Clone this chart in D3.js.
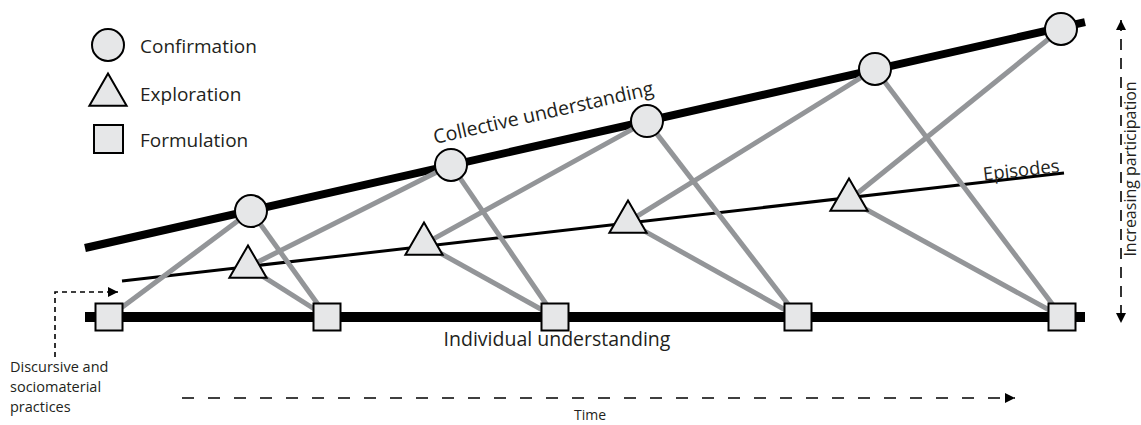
<!DOCTYPE html>
<html>
<head>
<meta charset="utf-8">
<script src="https://cdn.jsdelivr.net/npm/d3@7"></script>
<style>
  body { margin: 0; background: #fff; }
  svg { display: block; font-family: 'Open Sans', sans-serif; }
</style>
</head>
<body>
<svg id="chart" width="1141" height="425"></svg>
<script>
// time runs 0..100 left to right, participation 0..100 bottom to top
const formulationT = [2.4, 24.2, 47.0, 71.3, 97.7];
const confirmationT = [16.6, 36.6, 56.2, 79.0, 97.6];
const confirmationP = [35.3, 50.7, 65.3, 82.7, 96.0];
const explorationT = [16.3, 33.9, 54.3, 76.4];
const explorationP = [16.7, 24.3, 31.7, 39.0];

const individualLine = [[0, 0], [100, 0]];
const collectiveLine = [[0, 23], [100, 98.3]];
const episodesLine = [[3.7, 12], [97.9, 48]];

// [from kind, from index, to kind, to index]
const links = [
  ['F', 0, 'C', 0],
  ['C', 0, 'F', 1], ['E', 0, 'F', 1], ['E', 0, 'C', 1],
  ['C', 1, 'F', 2], ['E', 1, 'F', 2], ['E', 1, 'C', 2],
  ['C', 2, 'F', 3], ['E', 2, 'F', 3], ['E', 2, 'C', 3],
  ['C', 3, 'F', 4], ['E', 3, 'F', 4], ['E', 3, 'C', 4]
];

const legendItems = ['Confirmation', 'Exploration', 'Formulation'];
const practiceLines = ['Discursive and', 'sociomaterial', 'practices'];

const x = d3.scaleLinear().domain([0, 100]).range([85, 1085]);
const y = d3.scaleLinear().domain([0, 100]).range([317, 17]);

const svg = d3.select('#chart');
const fillGrey = '#e6e7e8';
const linkGrey = '#939598';
const textCol = '#231f20';

const defs = svg.append('defs');
defs.append('marker')
  .attr('id', 'arrow')
  .attr('viewBox', '0 0 10 10')
  .attr('refX', 10).attr('refY', 5)
  .attr('markerWidth', 16).attr('markerHeight', 10)
  .attr('markerUnits', 'userSpaceOnUse')
  .attr('orient', 'auto-start-reverse')
  .append('path')
  .attr('d', 'M0,0L10,5L0,10Z')
  .attr('fill', '#000');

const line = d3.line().x(d => x(d[0])).y(d => y(d[1]));

function point(kind, i) {
  if (kind === 'F') return [formulationT[i], 0];
  if (kind === 'C') return [confirmationT[i], confirmationP[i]];
  return [explorationT[i], explorationP[i]];
}

// black lines
svg.append('path').datum(individualLine).attr('d', line)
  .attr('stroke', '#000').attr('stroke-width', 10).attr('fill', 'none');
svg.append('path').datum(collectiveLine).attr('d', line)
  .attr('stroke', '#000').attr('stroke-width', 8).attr('fill', 'none');
svg.append('path').datum(episodesLine).attr('d', line)
  .attr('stroke', '#000').attr('stroke-width', 3).attr('fill', 'none');

// grey links
svg.append('g')
  .selectAll('path')
  .data(links)
  .join('path')
  .attr('d', d => line([point(d[0], d[1]), point(d[2], d[3])]))
  .attr('stroke', linkGrey)
  .attr('stroke-width', 5)
  .attr('fill', 'none');

// markers
const tri = d3.symbol(d3.symbolTriangle, 600);

svg.append('g')
  .selectAll('rect')
  .data(formulationT)
  .join('rect')
  .attr('x', d => x(d) - 13.5)
  .attr('y', y(0) - 13.5)
  .attr('width', 27).attr('height', 27)
  .attr('fill', fillGrey).attr('stroke', '#000').attr('stroke-width', 2);

svg.append('g')
  .selectAll('circle')
  .data(confirmationT)
  .join('circle')
  .attr('cx', d => x(d))
  .attr('cy', (d, i) => y(confirmationP[i]))
  .attr('r', 16)
  .attr('fill', fillGrey).attr('stroke', '#000').attr('stroke-width', 2);

svg.append('g')
  .selectAll('path')
  .data(explorationT)
  .join('path')
  .attr('d', tri)
  .attr('transform', (d, i) => `translate(${x(d)},${y(explorationP[i])})`)
  .attr('fill', fillGrey).attr('stroke', '#000').attr('stroke-width', 2);

// legend
const legend = svg.append('g');
legend.append('circle').attr('cx', 108).attr('cy', 45).attr('r', 16)
  .attr('fill', fillGrey).attr('stroke', '#000').attr('stroke-width', 2);
legend.append('path').attr('d', tri).attr('transform', 'translate(108,95)')
  .attr('fill', fillGrey).attr('stroke', '#000').attr('stroke-width', 2);
legend.append('rect').attr('x', 94).attr('y', 125).attr('width', 29).attr('height', 28)
  .attr('fill', fillGrey).attr('stroke', '#000').attr('stroke-width', 2);
legend.selectAll('text')
  .data(legendItems)
  .join('text')
  .attr('x', 140)
  .attr('y', (d, i) => [53, 101, 147][i])
  .attr('font-size', 19)
  .attr('fill', textCol)
  .text(d => d);

// line labels
const collAngle = Math.atan2(y(collectiveLine[1][1]) - y(collectiveLine[0][1]),
  x(collectiveLine[1][0]) - x(collectiveLine[0][0])) * 180 / Math.PI;
svg.append('text')
  .attr('transform', `translate(435,144) rotate(${collAngle})`)
  .attr('font-size', 19.5).attr('fill', textCol)
  .text('Collective understanding');

const epiAngle = Math.atan2(y(episodesLine[1][1]) - y(episodesLine[0][1]),
  x(episodesLine[1][0]) - x(episodesLine[0][0])) * 180 / Math.PI;
svg.append('text')
  .attr('transform', `translate(1060,172) rotate(${epiAngle})`)
  .attr('text-anchor', 'end')
  .attr('font-size', 18.5).attr('fill', textCol)
  .text('Episodes');

svg.append('text')
  .attr('x', 557).attr('y', 346)
  .attr('text-anchor', 'middle')
  .attr('font-size', 19.5).attr('fill', textCol)
  .text('Individual understanding');

// increasing participation arrow
svg.append('line')
  .attr('x1', 1121).attr('y1', 20).attr('x2', 1121).attr('y2', 323)
  .attr('stroke', '#000').attr('stroke-width', 1.6)
  .attr('stroke-dasharray', '11,8')
  .attr('marker-start', 'url(#arrow)').attr('marker-end', 'url(#arrow)');
svg.append('text')
  .attr('transform', 'translate(1136,169) rotate(-90)')
  .attr('text-anchor', 'middle')
  .attr('font-size', 16).attr('fill', textCol)
  .text('Increasing participation');

// time arrow
svg.append('line')
  .attr('x1', 182).attr('y1', 398).attr('x2', 1015).attr('y2', 398)
  .attr('stroke', '#000').attr('stroke-width', 1.6)
  .attr('stroke-dasharray', '12,14')
  .attr('marker-end', 'url(#arrow)');
svg.append('text')
  .attr('x', 590).attr('y', 420)
  .attr('text-anchor', 'middle')
  .attr('font-size', 14).attr('fill', textCol)
  .text('Time');

// practices annotation
svg.append('path')
  .attr('d', 'M55,357V292H118')
  .attr('fill', 'none').attr('stroke', '#000').attr('stroke-width', 1.6)
  .attr('stroke-dasharray', '5,4')
  .attr('marker-end', 'url(#arrow)');
svg.append('g')
  .selectAll('text')
  .data(practiceLines)
  .join('text')
  .attr('x', 10)
  .attr('y', (d, i) => 372 + i * 20)
  .attr('font-size', 14.5).attr('fill', textCol)
  .text(d => d);
</script>
</body>
</html>
